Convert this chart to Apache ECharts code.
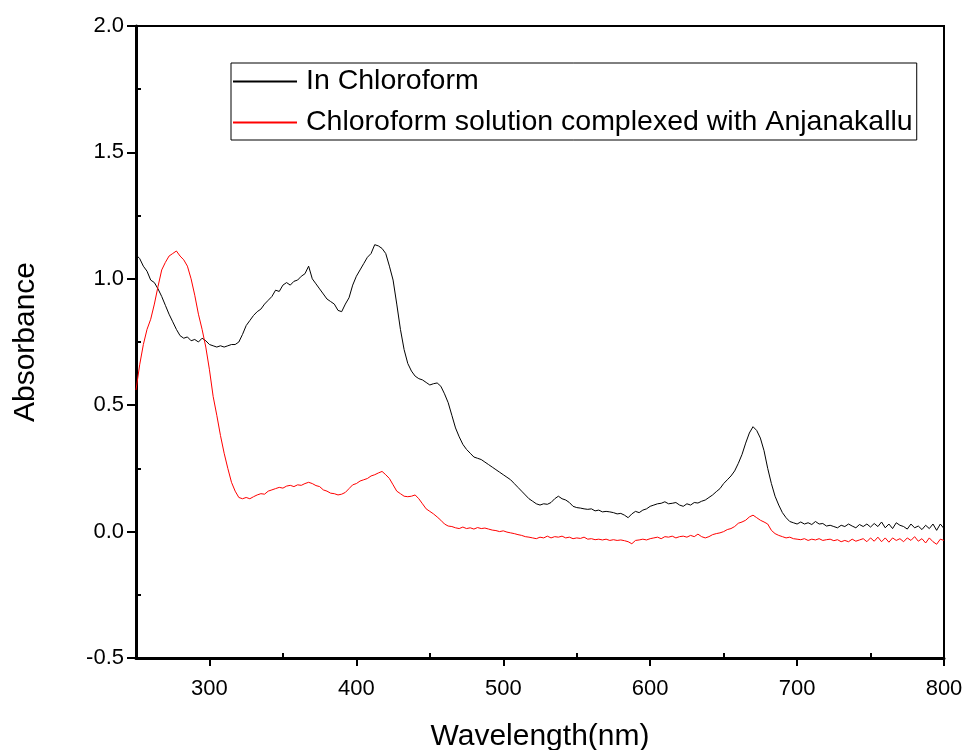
<!DOCTYPE html>
<html>
<head>
<meta charset="utf-8">
<script src="https://cdn.jsdelivr.net/npm/echarts@6/dist/echarts.min.js"></script>
<style>
html,body{margin:0;padding:0;background:#fff;}
#chart{width:968px;height:750px;}
</style>
</head>
<body>
<div id="chart"></div>
<script>
const seriesNames = ['In Chloroform', 'Chloroform solution complexed with Anjanakallu'];
const xTicks = [300, 400, 500, 600, 700, 800];
const xMinorTicks = [350, 450, 550, 650, 750];
const yTicks = [-0.5, 0, 0.5, 1.0, 1.5, 2.0];
const yMinorTicks = [-0.25, 0.25, 0.75, 1.25, 1.75];

const wavelengths = [
250,252.5,255,257.5,260,262.5,265,267.5,270,272.5,
275,277.5,280,282.5,285,287.5,290,292.5,295,297.5,
300,302.5,305,307.5,310,312.5,315,317.5,320,322.5,
325,327.5,330,332.5,335,337.5,340,342.5,345,347.5,
350,352.5,355,357.5,360,362.5,365,367.5,370,372.5,
375,377.5,380,382.5,385,387.5,390,392.5,395,397.5,
400,402.5,405,407.5,410,412.5,415,417.5,420,422.5,
425,427.5,430,432.5,435,437.5,440,442.5,445,447.5,
450,452.5,455,457.5,460,462.5,465,467.5,470,472.5,
475,477.5,480,482.5,485,487.5,490,492.5,495,497.5,
500,502.5,505,507.5,510,512.5,515,517.5,520,522.5,
525,527.5,530,532.5,535,537.5,540,542.5,545,547.5,
550,552.5,555,557.5,560,562.5,565,567.5,570,572.5,
575,577.5,580,582.5,585,587.5,590,592.5,595,597.5,
600,602.5,605,607.5,610,612.5,615,617.5,620,622.5,
625,627.5,630,632.5,635,637.5,640,642.5,645,647.5,
650,652.5,655,657.5,660,662.5,665,667.5,670,672.5,
675,677.5,680,682.5,685,687.5,690,692.5,695,697.5,
700,702.5,705,707.5,710,712.5,715,717.5,720,722.5,
725,727.5,730,732.5,735,737.5,740,742.5,745,747.5,
750,752.5,755,757.5,760,762.5,765,767.5,770,772.5,
775,777.5,780,782.5,785,787.5,790,792.5,795,797.5,
800
];

const chloroform = [
1.095,1.08,1.05,1.03,0.995,0.985,0.96,0.93,0.895,0.86,
0.83,0.80,0.775,0.765,0.77,0.755,0.76,0.75,0.765,0.755,
0.74,0.735,0.73,0.735,0.73,0.735,0.74,0.74,0.75,0.78,
0.815,0.835,0.855,0.87,0.88,0.9,0.915,0.93,0.955,0.95,
0.975,0.985,0.975,0.99,0.995,1.01,1.02,1.05,1.0,0.98,
0.96,0.94,0.92,0.91,0.9,0.875,0.87,0.9,0.925,0.975,
1.01,1.035,1.06,1.085,1.1,1.135,1.13,1.12,1.1,1.05,
0.995,0.9,0.8,0.72,0.665,0.635,0.615,0.605,0.6,0.59,
0.58,0.585,0.588,0.575,0.545,0.51,0.46,0.41,0.375,0.345,
0.325,0.31,0.295,0.29,0.285,0.275,0.265,0.255,0.245,0.235,
0.225,0.215,0.205,0.19,0.175,0.16,0.145,0.13,0.12,0.11,
0.105,0.11,0.108,0.115,0.13,0.14,0.13,0.125,0.115,0.1,
0.095,0.093,0.09,0.088,0.09,0.082,0.085,0.078,0.08,0.078,
0.075,0.07,0.072,0.065,0.055,0.07,0.08,0.075,0.085,0.09,
0.1,0.105,0.11,0.112,0.118,0.11,0.112,0.115,0.105,0.1,
0.11,0.105,0.115,0.113,0.12,0.125,0.135,0.145,0.158,0.17,
0.19,0.205,0.22,0.24,0.27,0.305,0.35,0.39,0.415,0.4,
0.37,0.32,0.25,0.19,0.14,0.105,0.075,0.055,0.04,0.035,
0.03,0.038,0.03,0.035,0.028,0.04,0.03,0.032,0.022,0.025,
0.02,0.015,0.025,0.02,0.03,0.022,0.015,0.028,0.02,0.03,
0.018,0.032,0.02,0.038,0.015,0.03,0.012,0.035,0.025,0.02,
0.01,0.03,0.015,0.022,0.008,0.025,0.012,0.03,0.005,0.03,
0.012
];

const complexed = [
0.56,0.66,0.74,0.80,0.84,0.9,0.97,1.035,1.065,1.09,
1.1,1.11,1.09,1.075,1.05,1.0,0.935,0.86,0.8,0.73,
0.64,0.535,0.46,0.38,0.31,0.25,0.195,0.16,0.135,0.13,
0.135,0.13,0.138,0.145,0.15,0.148,0.16,0.165,0.17,0.175,
0.172,0.18,0.183,0.178,0.185,0.183,0.19,0.195,0.19,0.182,
0.178,0.165,0.16,0.152,0.15,0.145,0.148,0.155,0.17,0.185,
0.19,0.2,0.205,0.21,0.22,0.225,0.232,0.238,0.225,0.21,
0.185,0.16,0.15,0.14,0.138,0.14,0.145,0.13,0.11,0.09,
0.08,0.07,0.058,0.045,0.03,0.022,0.02,0.015,0.012,0.018,
0.012,0.015,0.01,0.016,0.012,0.014,0.01,0.006,0.004,0.0,
0.003,-0.002,-0.005,-0.008,-0.012,-0.015,-0.02,-0.022,-0.025,-0.028,
-0.022,-0.025,-0.018,-0.025,-0.02,-0.022,-0.018,-0.025,-0.022,-0.028,
-0.025,-0.027,-0.022,-0.03,-0.028,-0.032,-0.03,-0.033,-0.03,-0.035,
-0.032,-0.035,-0.033,-0.036,-0.04,-0.048,-0.035,-0.033,-0.03,-0.033,
-0.028,-0.025,-0.022,-0.028,-0.02,-0.022,-0.018,-0.025,-0.02,-0.018,
-0.022,-0.015,-0.02,-0.01,-0.02,-0.025,-0.02,-0.012,-0.008,-0.005,
0.0,0.008,0.012,0.02,0.033,0.038,0.045,0.058,0.065,0.055,
0.045,0.038,0.03,0.005,-0.008,-0.015,-0.02,-0.025,-0.022,-0.028,
-0.03,-0.032,-0.028,-0.035,-0.03,-0.033,-0.028,-0.035,-0.032,-0.03,
-0.036,-0.032,-0.04,-0.035,-0.04,-0.03,-0.038,-0.033,-0.028,-0.04,
-0.025,-0.038,-0.022,-0.04,-0.025,-0.042,-0.025,-0.035,-0.028,-0.04,
-0.025,-0.035,-0.02,-0.038,-0.028,-0.045,-0.025,-0.04,-0.05,-0.03,
-0.035
];

const FONT = '"Liberation Sans", Arial, sans-serif';
const pairs = (ys) => wavelengths.map((w, i) => [w, ys[i]]);

const chart = echarts.init(document.getElementById('chart'), null, {renderer: 'canvas'});
chart.setOption({
  animation: false,
  backgroundColor: '#ffffff',
  grid: {left: 136, top: 26, right: 24, bottom: 92, containLabel: false, outerBoundsMode: 'none',
    show: true, borderColor: '#000', borderWidth: 2, backgroundColor: 'transparent'},
  legend: {
    orient: 'vertical', left: 231, top: 63,
    itemWidth: 64, itemHeight: 2, itemGap: 12, icon: 'rect',
    borderColor: '#000', borderWidth: 1, padding: [4, 4, 3, 2],
    textStyle: {fontFamily: FONT, fontSize: 28.5, color: '#000', padding: [0, 0, 0, 4]},
    data: seriesNames
  },
  xAxis: [{
    type: 'value', min: 250, max: 800, position: 'bottom',
    name: 'Wavelength(nm)', nameLocation: 'middle', nameGap: 64,
    nameTextStyle: {fontFamily: FONT, fontSize: 30, color: '#000'},
    axisLine: {show: true, onZero: false, lineStyle: {color: '#000', width: 3}},
    axisTick: {show: true, inside: false, length: 8, customValues: xTicks, lineStyle: {color: '#000', width: 2}},
    axisLabel: {show: true, customValues: xTicks, margin: 20, fontFamily: FONT, fontSize: 22, color: '#000'},
    splitLine: {show: false}
  }, {
    type: 'value', min: 250, max: 800, position: 'bottom',
    axisLine: {show: false, onZero: false},
    axisTick: {show: true, inside: true, length: 5, customValues: xMinorTicks, lineStyle: {color: '#000', width: 2}},
    axisLabel: {show: false},
    splitLine: {show: false}
  }],
  yAxis: [{
    type: 'value', min: -0.5, max: 2.0, interval: 0.5, position: 'left',
    name: 'Absorbance', nameLocation: 'middle', nameGap: 95,
    nameTextStyle: {fontFamily: FONT, fontSize: 30, color: '#000'},
    axisLine: {show: true, onZero: false, lineStyle: {color: '#000', width: 3}},
    axisTick: {show: true, inside: false, length: 9, lineStyle: {color: '#000', width: 2}},
    axisLabel: {show: true, margin: 12, fontFamily: FONT, fontSize: 22, color: '#000',
      formatter: (v) => v.toFixed(1)},
    splitLine: {show: false}
  }, {
    type: 'value', min: -0.5, max: 2.0, position: 'left',
    axisLine: {show: false, onZero: false},
    axisTick: {show: true, inside: true, length: 5, customValues: yMinorTicks, lineStyle: {color: '#000', width: 2}},
    axisLabel: {show: false},
    splitLine: {show: false}
  }],
  series: [{
    name: seriesNames[0], type: 'line', xAxisIndex: 0, yAxisIndex: 0,
    showSymbol: false, symbol: 'none', color: '#000000',
    lineStyle: {color: '#000000', width: 1}, data: pairs(chloroform)
  }, {
    name: seriesNames[1], type: 'line', xAxisIndex: 0, yAxisIndex: 0,
    showSymbol: false, symbol: 'none', color: '#ff0000',
    lineStyle: {color: '#ff0000', width: 1}, data: pairs(complexed)
  }]
});
</script>
</body>
</html>
